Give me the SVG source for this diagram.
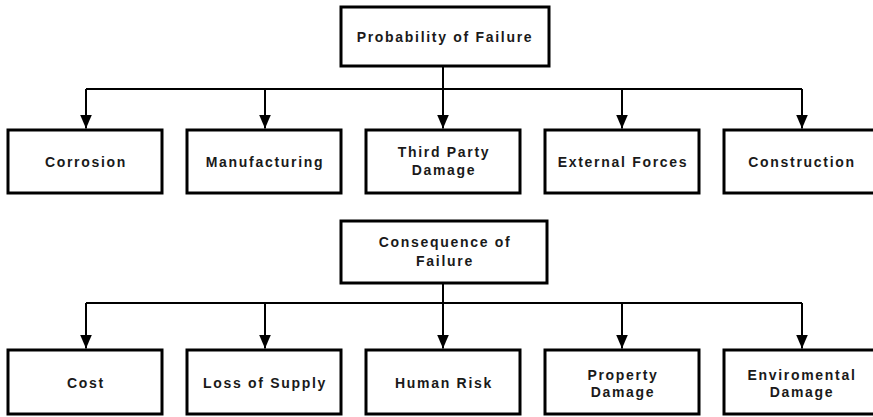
<svg xmlns="http://www.w3.org/2000/svg" width="873" height="417" viewBox="0 0 873 417">
<defs>
<marker id="ah" markerUnits="userSpaceOnUse" markerWidth="14" markerHeight="12" refX="14" refY="6" orient="auto" viewBox="0 0 14 12">
<path d="M0,0 L14,6 L0,12 Z" fill="#000"/>
</marker>
<style>
.box{fill:#fff;stroke:#000;stroke-width:3}
.t{font-family:"Liberation Sans",Arial,sans-serif;font-weight:bold;font-size:14px;letter-spacing:1.7px;fill:#1a1a1a;text-anchor:middle}
.c{fill:none;stroke:#000;stroke-width:2}
.a{fill:none;stroke:#000;stroke-width:2;marker-end:url(#ah)}
</style>
</defs>
<rect width="873" height="417" fill="#fff"/>
<g id="connectors">
<path class="c" d="M443,66 V89 M86,89 H802"/>
<path class="a" d="M86,89 V128.5"/>
<path class="a" d="M265,89 V128.5"/>
<path class="a" d="M443,66 V128.5"/>
<path class="a" d="M622,89 V128.5"/>
<path class="a" d="M802,89 V128.5"/>
<path class="c" d="M443,283 V303 M86,303 H802"/>
<path class="a" d="M86,303 V348.5"/>
<path class="a" d="M265,303 V348.5"/>
<path class="a" d="M443,303 V348.5"/>
<path class="a" d="M622,303 V348.5"/>
<path class="a" d="M802,303 V348.5"/>
</g>
<g id="probability">
<rect class="box" x="341" y="7" width="208" height="59"/>
<text class="t" x="445" y="42">Probability of Failure</text>
</g>
<g id="corrosion">
<rect class="box" x="8" y="130" width="154" height="63"/>
<text class="t" x="86" y="167">Corrosion</text>
</g>
<g id="manufacturing">
<rect class="box" x="187" y="130" width="154" height="63"/>
<text class="t" x="265" y="167">Manufacturing</text>
</g>
<g id="thirdparty">
<rect class="box" x="366" y="130" width="154" height="63"/>
<text class="t" x="444" y="157">Third Party</text>
<text class="t" x="444" y="175">Damage</text>
</g>
<g id="external">
<rect class="box" x="545" y="130" width="154" height="63"/>
<text class="t" x="623" y="167">External Forces</text>
</g>
<g id="construction">
<rect class="box" x="724" y="130" width="154" height="63"/>
<text class="t" x="802" y="167">Construction</text>
</g>
<g id="consequence">
<rect class="box" x="341" y="221" width="206" height="62"/>
<text class="t" x="445" y="247">Consequence of</text>
<text class="t" x="445" y="266">Failure</text>
</g>
<g id="cost">
<rect class="box" x="8" y="350" width="154" height="64"/>
<text class="t" x="86" y="388">Cost</text>
</g>
<g id="loss">
<rect class="box" x="187" y="350" width="154" height="64"/>
<text class="t" x="265" y="388">Loss of Supply</text>
</g>
<g id="human">
<rect class="box" x="366" y="350" width="154" height="64"/>
<text class="t" x="444" y="388">Human Risk</text>
</g>
<g id="property">
<rect class="box" x="545" y="350" width="154" height="64"/>
<text class="t" x="623" y="380">Property</text>
<text class="t" x="623" y="397">Damage</text>
</g>
<g id="enviromental">
<rect class="box" x="724" y="350" width="154" height="64"/>
<text class="t" x="802" y="380">Enviromental</text>
<text class="t" x="802" y="397">Damage</text>
</g>
</svg>
